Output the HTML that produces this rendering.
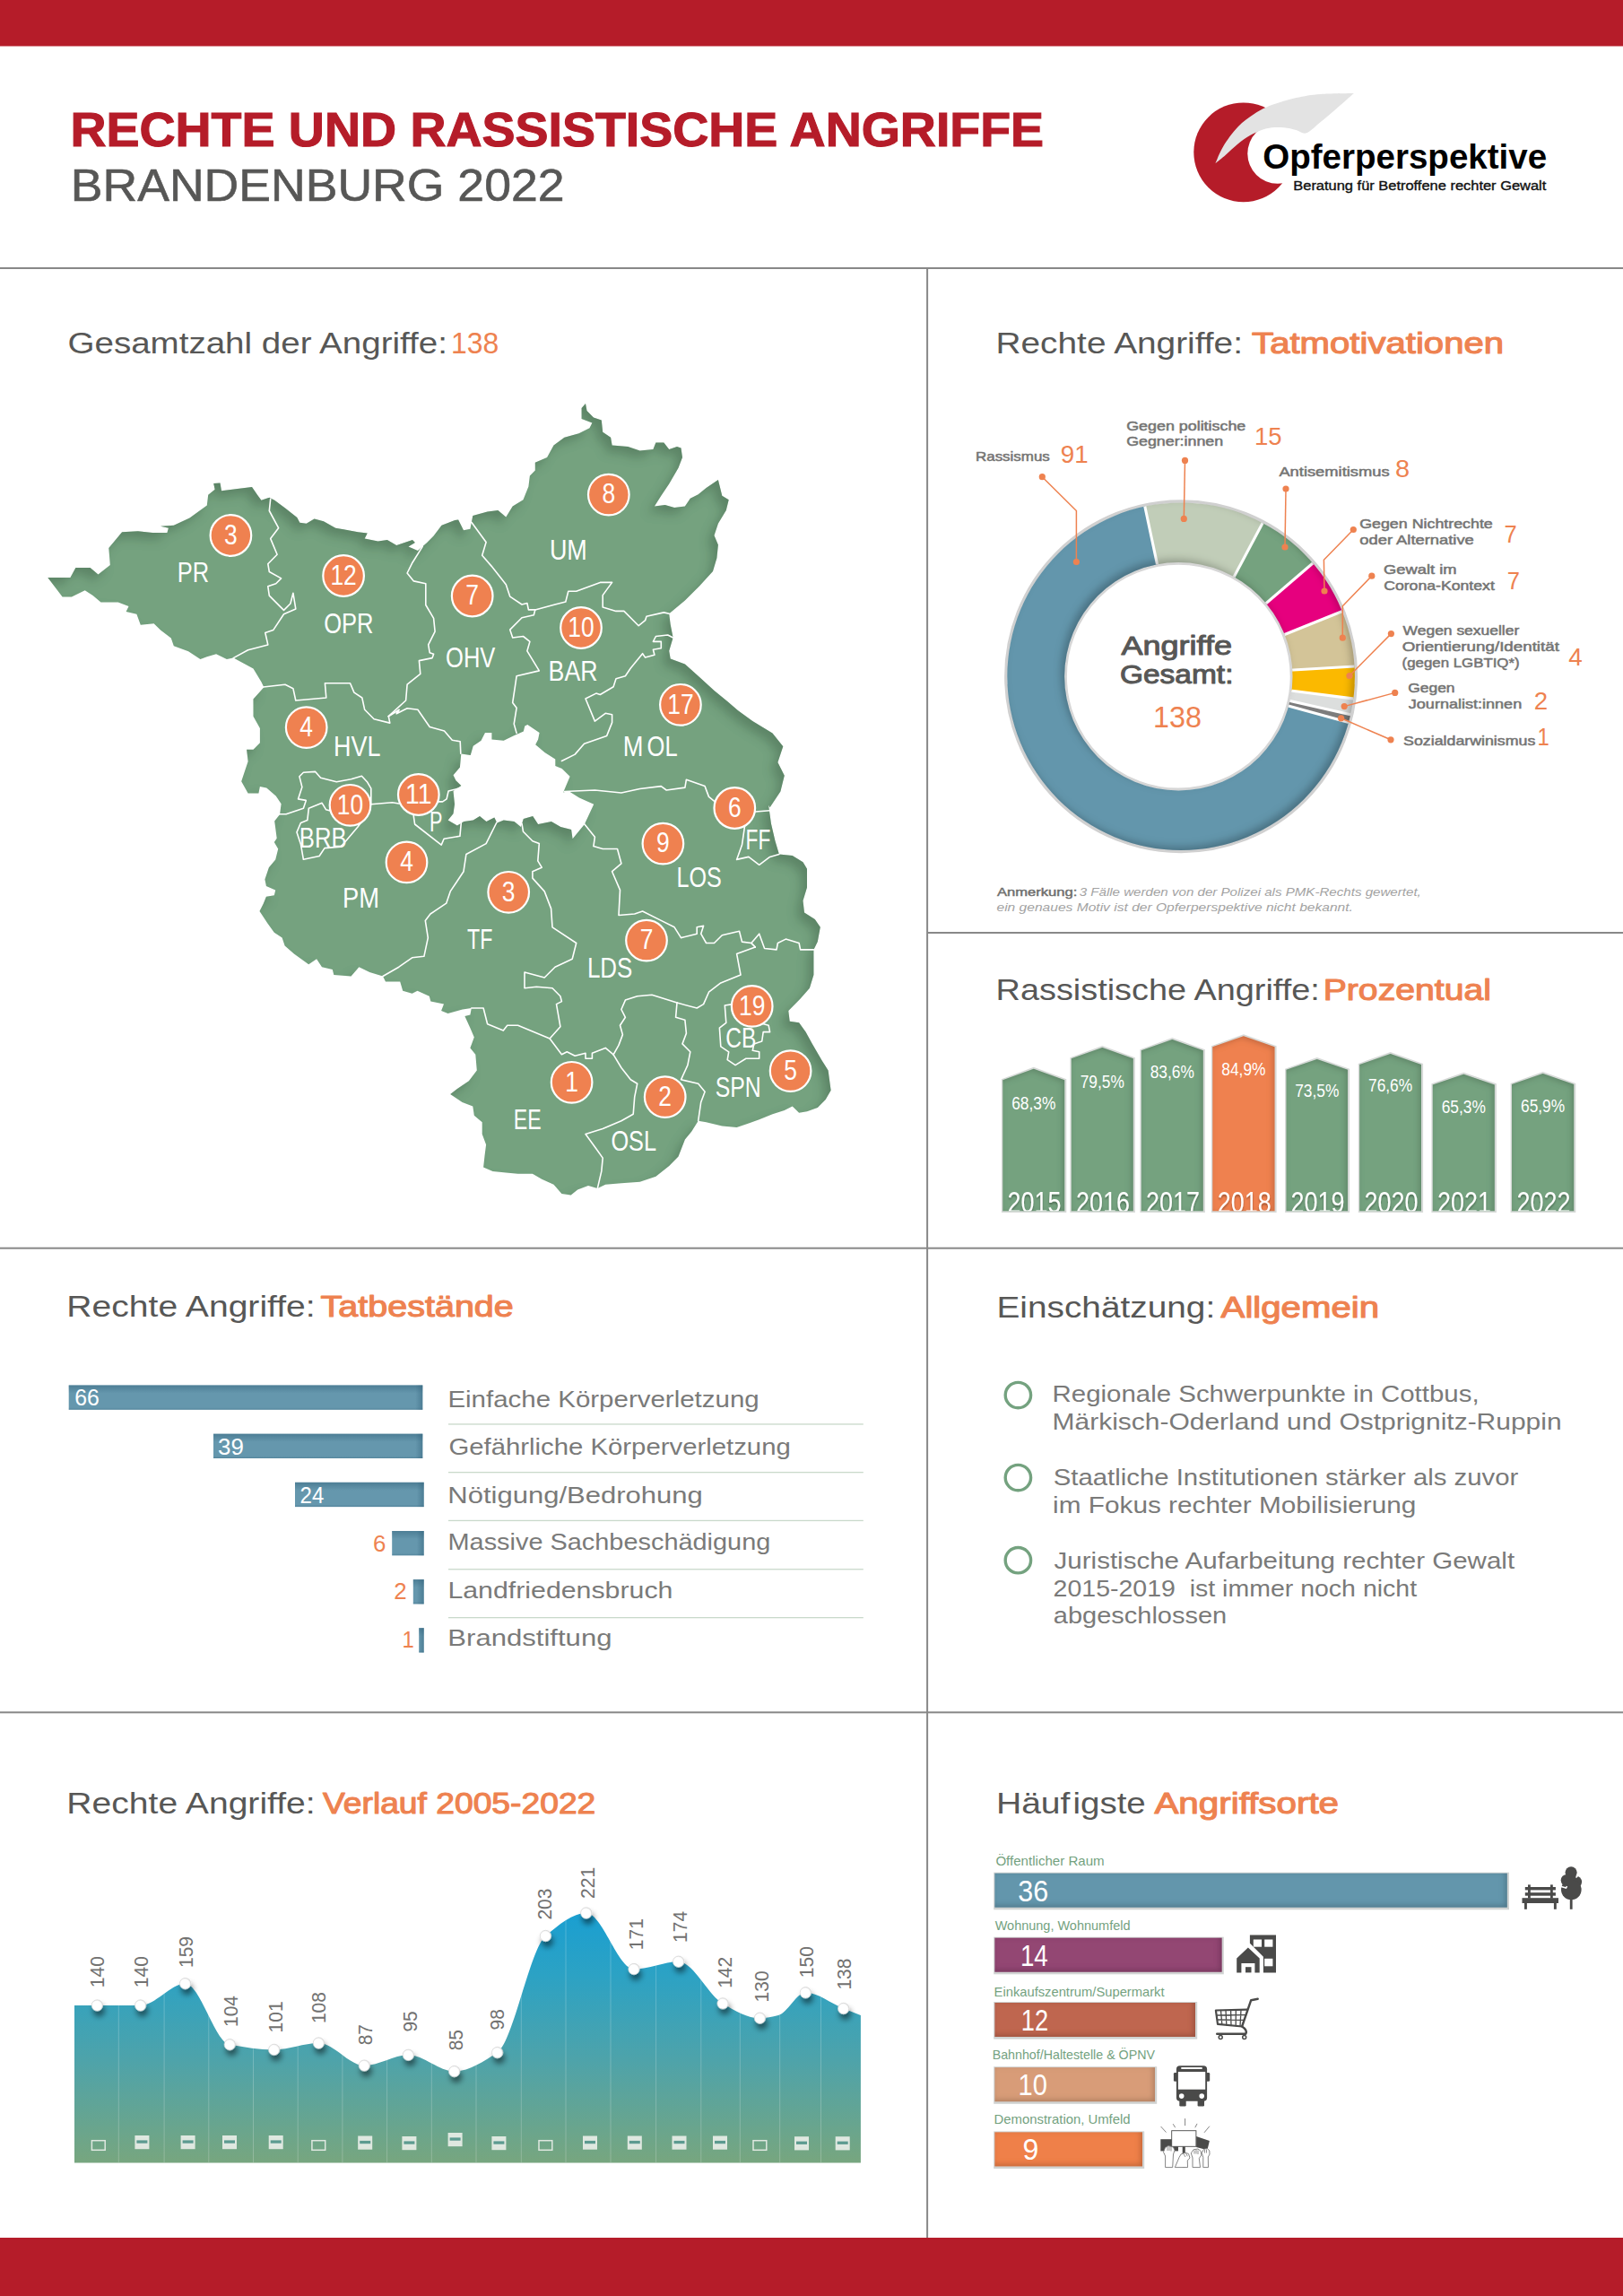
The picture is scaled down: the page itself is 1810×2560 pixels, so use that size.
<!DOCTYPE html>
<html lang="de"><head><meta charset="utf-8"><title>Rechte und rassistische Angriffe Brandenburg 2022</title>
<style>
html,body{margin:0;padding:0;background:#fff;}
body{width:1810px;height:2560px;overflow:hidden;}
svg{display:block;font-family:"Liberation Sans",sans-serif;}
</style>
</head><body>
<svg width="1810" height="2560" viewBox="0 0 1810 2560">
<defs>
<filter id="mapin" x="-5%" y="-5%" width="110%" height="110%">
<feComponentTransfer in="SourceAlpha" result="inv"><feFuncA type="table" tableValues="1 0"/></feComponentTransfer>
<feGaussianBlur in="inv" stdDeviation="5.5" result="bl"/>
<feOffset in="bl" dx="-7" dy="8" result="ob"/>
<feFlood flood-color="#17402a" flood-opacity="0.4"/>
<feComposite in2="ob" operator="in"/>
<feComposite in2="SourceAlpha" operator="in" result="sh"/>
<feMerge><feMergeNode in="SourceGraphic"/><feMergeNode in="sh"/></feMerge>
</filter>
<filter id="barin" x="-10%" y="-10%" width="120%" height="120%">
<feComponentTransfer in="SourceAlpha" result="inv"><feFuncA type="table" tableValues="1 0"/></feComponentTransfer>
<feGaussianBlur in="inv" stdDeviation="3" result="bl"/>
<feOffset in="bl" dx="-2" dy="2" result="ob"/>
<feFlood flood-color="#000" flood-opacity="0.35"/>
<feComposite in2="ob" operator="in"/>
<feComposite in2="SourceAlpha" operator="in" result="sh"/>
<feMerge><feMergeNode in="SourceGraphic"/><feMergeNode in="sh"/></feMerge>
</filter>
<filter id="ringin" x="-5%" y="-5%" width="110%" height="110%">
<feComponentTransfer in="SourceAlpha" result="inv"><feFuncA type="table" tableValues="1 0"/></feComponentTransfer>
<feGaussianBlur in="inv" stdDeviation="4.5" result="bl"/>
<feOffset in="bl" dx="-4" dy="-4" result="ob"/>
<feFlood flood-color="#000" flood-opacity="0.45"/>
<feComposite in2="ob" operator="in"/>
<feComposite in2="SourceAlpha" operator="in" result="sh"/>
<feMerge><feMergeNode in="SourceGraphic"/><feMergeNode in="sh"/></feMerge>
</filter>
<filter id="dotsh" x="-100%" y="-100%" width="300%" height="350%">
<feGaussianBlur in="SourceAlpha" stdDeviation="3"/><feOffset dx="1.5" dy="5.5"/>
<feComponentTransfer><feFuncA type="linear" slope="0.5"/></feComponentTransfer>
<feMerge><feMergeNode/><feMergeNode in="SourceGraphic"/></feMerge>
</filter>
<filter id="txtsh" x="-10%" y="-10%" width="120%" height="130%"><feGaussianBlur in="SourceAlpha" stdDeviation="1.2"/><feOffset dx="0" dy="1.5"/><feComponentTransfer><feFuncA type="linear" slope="0.35"/></feComponentTransfer><feMerge><feMergeNode/><feMergeNode in="SourceGraphic"/></feMerge></filter>
<linearGradient id="tbtop" x1="0" x2="0" y1="0" y2="1"><stop offset="0" stop-color="#2f5f78" stop-opacity="0.45"/><stop offset="1" stop-color="#2f5f78" stop-opacity="0"/></linearGradient>
<linearGradient id="tbend" x1="0" x2="1" y1="0" y2="0"><stop offset="0" stop-color="#2f5f78" stop-opacity="0"/><stop offset="1" stop-color="#2f5f78" stop-opacity="0.45"/></linearGradient>
<linearGradient id="tbbot" x1="0" x2="0" y1="0" y2="1"><stop offset="0" stop-color="#2f5f78" stop-opacity="0"/><stop offset="1" stop-color="#2f5f78" stop-opacity="0.3"/></linearGradient>
<filter id="hbarin" x="-5%" y="-20%" width="110%" height="140%">
<feComponentTransfer in="SourceAlpha" result="inv"><feFuncA type="table" tableValues="1 0"/></feComponentTransfer>
<feGaussianBlur in="inv" stdDeviation="3" result="bl"/>
<feOffset in="bl" dx="-2" dy="-2" result="ob"/>
<feFlood flood-color="#000" flood-opacity="0.4"/>
<feComposite in2="ob" operator="in"/>
<feComposite in2="SourceAlpha" operator="in" result="sh"/>
<feMerge><feMergeNode in="SourceGraphic"/><feMergeNode in="sh"/></feMerge>
</filter>
<radialGradient id="dotg" cx="0.45" cy="0.55" r="0.6"><stop offset="0" stop-color="#fff"/><stop offset="0.7" stop-color="#fff"/><stop offset="1" stop-color="#dcdcdc"/></radialGradient>
<linearGradient id="area" x1="0" y1="2133" x2="0" y2="2411" gradientUnits="userSpaceOnUse">
<stop offset="0" stop-color="#1a9fd1"/><stop offset="0.25" stop-color="#2ca2c4"/><stop offset="0.6" stop-color="#4fa3a9"/><stop offset="1" stop-color="#77a67f"/>
</linearGradient>
</defs>
<rect width="1810" height="2560" fill="#fff"/>

<rect x="0" y="0" width="1810" height="51.5" fill="#b51c29"/>
<rect x="0" y="2495" width="1810" height="65" fill="#b51c29"/>
<text x="78.4" y="162.8" font-size="53.7" fill="#b51c29" font-weight="700" textLength="1085.7" lengthAdjust="spacingAndGlyphs" stroke="#b51c29" stroke-width="1.1">RECHTE UND RASSISTISCHE ANGRIFFE</text>
<text x="78.8" y="223.8" font-size="50.5" fill="#575756" textLength="550.7" lengthAdjust="spacingAndGlyphs" stroke="#575756" stroke-width="0.6">BRANDENBURG 2022</text>
<g fill="#888"><rect x="0" y="298" width="1810" height="2"/><rect x="1034" y="1039" width="776" height="2"/><rect x="0" y="1390.7" width="1810" height="2"/><rect x="0" y="1908.3" width="1810" height="2"/><rect x="1033.1" y="299" width="2" height="2196"/></g>
<circle cx="1386.7" cy="169.8" r="55.4" fill="#b51c29"/>
<circle cx="1424.8" cy="171.3" r="33.5" fill="#fff"/>
<path d="M1355.4,182.2 C1356.9,179.0 1360.0,170.0 1364.2,163.2 C1368.4,156.4 1374.6,147.6 1380.5,141.5 C1386.4,135.4 1393.2,130.7 1399.5,126.6 C1405.8,122.5 1410.7,120.0 1418.4,117.1 C1426.1,114.2 1436.5,111.0 1445.5,109.0 C1454.5,107.0 1462.0,105.7 1472.7,104.9 C1483.4,104.1 1503.7,104.2 1509.9,104.0 C1506.6,106.9 1496.5,115.9 1490.3,121.2 C1484.1,126.5 1478.2,131.6 1472.7,136.1 C1467.2,140.6 1461.6,146.8 1457.1,148.3 C1452.6,149.8 1449.7,145.9 1445.5,144.9 C1441.3,143.9 1436.5,142.6 1432.0,142.2 C1427.5,141.8 1422.6,141.8 1418.4,142.2 C1414.2,142.6 1411.0,143.4 1406.9,144.9 C1402.8,146.4 1398.4,148.4 1394.0,151.0 C1389.6,153.6 1385.0,156.9 1380.5,160.5 C1376.0,164.1 1371.1,169.1 1366.9,172.7 C1362.7,176.3 1357.3,180.6 1355.4,182.2Z" fill="#e3e3e3"/>
<text x="1408.2" y="187.5" font-size="38.6" fill="#000" font-weight="700" textLength="317.0" lengthAdjust="spacingAndGlyphs">Opferperspektive</text>
<text x="1442.3" y="212" font-size="14" fill="#111" textLength="282.0" lengthAdjust="spacingAndGlyphs" stroke="#111" stroke-width="0.35">Beratung für Betroffene rechter Gewalt</text>
<text x="75.5" y="394.2" font-size="33" fill="#575756" textLength="423.4" lengthAdjust="spacingAndGlyphs">Gesamtzahl der Angriffe:</text>
<text x="503.0" y="394.2" font-size="33.5" fill="#ee8250" textLength="53.3" lengthAdjust="spacingAndGlyphs">138</text>
<text x="1110.5" y="393.6" font-size="32.5" fill="#575756" textLength="275.5" lengthAdjust="spacingAndGlyphs">Rechte Angriffe:</text>
<text x="1396.1" y="393.6" font-size="32.5" fill="#ee8250" textLength="281.0" lengthAdjust="spacingAndGlyphs" stroke="#ee8250" stroke-width="1.10" stroke-linejoin="round">Tatmotivationen</text>
<text x="1110.6" y="1114.5" font-size="32.5" fill="#575756" textLength="361.2" lengthAdjust="spacingAndGlyphs">Rassistische Angriffe:</text>
<text x="1475.7" y="1114.5" font-size="32.5" fill="#ee8250" textLength="187.3" lengthAdjust="spacingAndGlyphs" stroke="#ee8250" stroke-width="1.10" stroke-linejoin="round">Prozentual</text>
<text x="74.3" y="1468" font-size="32.5" fill="#575756" textLength="277.4" lengthAdjust="spacingAndGlyphs">Rechte Angriffe:</text>
<text x="357.6" y="1468" font-size="32.5" fill="#ee8250" textLength="215.2" lengthAdjust="spacingAndGlyphs" stroke="#ee8250" stroke-width="1.10" stroke-linejoin="round">Tatbestände</text>
<text x="1111.5" y="1468.8" font-size="32.5" fill="#575756" textLength="243.7" lengthAdjust="spacingAndGlyphs">Einschätzung:</text>
<text x="1361.6" y="1468.8" font-size="32.5" fill="#ee8250" textLength="176.4" lengthAdjust="spacingAndGlyphs" stroke="#ee8250" stroke-width="1.10" stroke-linejoin="round">Allgemein</text>
<text x="74.3" y="2022" font-size="32.5" fill="#575756" textLength="277.4" lengthAdjust="spacingAndGlyphs">Rechte Angriffe:</text>
<text x="360.0" y="2022" font-size="32.5" fill="#ee8250" textLength="304.3" lengthAdjust="spacingAndGlyphs" stroke="#ee8250" stroke-width="1.10" stroke-linejoin="round">Verlauf 2005-2022</text>
<text x="1110.9" y="2021.6" font-size="32.5" fill="#575756" textLength="82.6" lengthAdjust="spacingAndGlyphs">Häuf</text>
<text x="1196.4" y="2021.6" font-size="32.5" fill="#575756" textLength="81.4" lengthAdjust="spacingAndGlyphs">igste</text>
<text x="1287.4" y="2021.6" font-size="32.5" fill="#ee8250" textLength="205.7" lengthAdjust="spacingAndGlyphs" stroke="#ee8250" stroke-width="1.10" stroke-linejoin="round">Angriffsorte</text>
<g filter="url(#mapin)"><path d="M53.3,644.0 L78.4,644.0 L84.4,633.1 L100.6,633.1 L109.5,640.5 L122.8,630.1 L121.3,610.9 L136.1,593.2 L153.9,592.3 L170.1,594.0 L186.4,594.0 L187.9,588.7 L179.0,586.7 L193.8,585.8 L211.5,577.5 L230.8,563.6 L232.2,551.8 L239.6,545.8 L238.2,539.0 L245.5,538.4 L247.0,547.3 L264.8,545.0 L281.0,542.9 L287.0,551.8 L291.4,557.7 L300.3,554.7 L306.2,557.7 L318.0,566.5 L331.3,576.9 L334.3,582.8 L341.7,583.7 L350.5,578.4 L360.9,581.3 L374.2,588.7 L383.1,590.2 L399.3,593.2 L409.7,594.6 L406.7,600.6 L421.5,603.5 L431.9,602.0 L442.2,607.9 L460.0,602.0 L462.9,605.0 L455.5,609.4 L465.9,613.9 L476.2,605.0 L483.6,597.6 L492.5,585.8 L507.3,579.9 L511.1,579.4 L517.0,591.2 L524.4,589.7 L527.3,574.9 L543.6,570.5 L555.4,569.0 L564.3,576.4 L571.7,564.6 L583.5,557.2 L589.4,542.4 L590.9,530.6 L596.8,524.6 L596.8,515.8 L610.1,509.9 L617.5,496.5 L629.4,487.7 L645.6,483.2 L657.5,477.3 L660.4,471.4 L648.6,467.0 L648.6,455.1 L653.0,450.1 L654.5,458.1 L661.9,465.5 L670.8,468.4 L672.2,481.8 L681.1,487.7 L682.6,496.5 L700.3,498.0 L713.6,502.5 L728.4,501.0 L731.4,493.6 L740.3,493.6 L746.2,501.0 L755.0,498.0 L759.5,499.5 L761.0,509.9 L756.5,521.7 L746.2,539.4 L737.3,552.7 L729.9,564.6 L741.7,563.1 L752.1,566.0 L763.9,564.6 L769.8,555.7 L778.7,551.3 L787.6,543.9 L800.9,535.0 L805.3,552.7 L812.7,557.2 L809.8,569.0 L800.9,583.8 L796.5,597.1 L800.9,607.5 L799.4,622.2 L795.0,637.0 L780.2,653.3 L763.9,669.6 L746.2,684.3 L747.7,696.2 L750.6,711.0 L746.2,725.8 L747.7,734.6 L763.9,740.5 L778.7,753.8 L796.5,770.1 L811.2,781.9 L823.1,792.3 L839.3,804.1 L861.5,817.4 L873.3,832.2 L867.4,850.0 L874.8,864.8 L870.4,882.5 L858.6,900.2 L857.1,897.7 L860.0,918.4 L864.5,937.7 L868.9,952.5 L883.7,953.9 L895.5,961.3 L900.0,968.7 L900.0,989.4 L895.5,1004.2 L897.0,1017.5 L908.8,1024.9 L914.8,1033.8 L911.8,1050.1 L907.4,1058.9 L907.4,1087.0 L902.9,1101.8 L892.6,1113.6 L879.3,1127.0 L880.7,1138.8 L891.1,1140.3 L898.5,1150.6 L905.9,1163.9 L916.2,1181.7 L923.6,1193.5 L926.6,1215.7 L920.7,1226.0 L911.8,1234.9 L900.0,1239.3 L891.1,1240.8 L883.7,1233.4 L874.8,1237.9 L861.5,1242.3 L846.7,1248.2 L834.9,1252.6 L821.6,1257.1 L805.3,1255.6 L787.6,1251.2 L778.7,1249.7 L771.3,1261.5 L763.9,1270.4 L756.5,1289.6 L746.2,1300.0 L731.4,1311.8 L713.6,1317.7 L692.9,1319.2 L675.2,1320.7 L666.3,1325.1 L656.0,1322.1 L644.1,1326.6 L636.7,1332.5 L626.4,1331.0 L617.5,1320.7 L604.2,1314.8 L593.9,1308.8 L577.6,1308.8 L564.3,1307.4 L549.5,1305.9 L539.1,1301.4 L540.6,1288.1 L542.1,1276.3 L537.7,1264.5 L537.7,1251.2 L528.8,1243.8 L527.3,1233.4 L515.5,1229.0 L502.2,1220.1 L509.6,1214.2 L522.9,1205.3 L531.8,1193.5 L530.3,1175.8 L524.4,1168.4 L528.8,1156.5 L524.4,1146.2 L518.4,1132.9 L524.4,1131.4 L525.8,1124.0 L515.8,1125.5 L499.5,1129.9 L492.1,1127.0 L495.0,1119.6 L480.3,1116.6 L478.8,1110.7 L465.5,1104.8 L459.6,1107.7 L449.2,1104.8 L446.2,1094.4 L430.0,1094.4 L427.0,1088.5 L412.2,1084.1 L400.4,1078.2 L391.5,1088.5 L372.3,1087.0 L370.8,1081.1 L359.0,1078.2 L353.1,1069.3 L344.2,1075.2 L327.9,1063.4 L317.6,1054.5 L314.6,1045.6 L305.8,1039.7 L298.4,1029.4 L289.5,1016.0 L293.9,1007.2 L296.9,999.8 L305.8,998.3 L307.2,992.4 L296.9,987.9 L295.4,980.6 L299.9,967.2 L307.2,958.4 L310.2,946.5 L305.8,939.1 L308.7,934.7 L305.8,912.5 L306.2,915.5 L312.1,908.1 L313.6,896.3 L307.7,887.4 L297.3,878.6 L289.9,877.1 L288.4,884.5 L276.6,884.5 L269.2,871.2 L276.6,849.0 L275.1,835.7 L282.5,835.7 L289.9,828.3 L289.9,812.0 L282.5,798.7 L282.5,779.5 L294.3,766.2 L291.4,760.3 L282.5,745.5 L260.3,733.6 L252.9,735.1 L241.1,729.2 L230.8,732.2 L223.4,735.1 L210.1,726.2 L193.8,720.3 L190.8,711.5 L179.0,702.6 L171.6,695.2 L156.8,696.7 L152.4,684.8 L140.6,681.9 L143.5,676.0 L131.7,671.5 L112.5,671.5 L103.6,664.1 L94.7,658.2 L79.9,665.6 L69.6,665.6Z M588.3,808.1 L601.6,817.0 L600.1,824.4 L597.2,830.3 L607.5,839.1 L619.3,846.5 L619.3,853.9 L626.7,856.9 L635.6,865.8 L628.2,883.5 L634.1,882.0 L646.0,889.4 L662.2,896.8 L651.9,919.0 L638.6,935.3 L637.1,924.9 L625.3,922.0 L614.9,916.0 L600.1,919.0 L594.2,910.1 L583.8,913.1 L580.9,922.0 L573.5,916.0 L561.7,914.6 L554.3,917.5 L551.3,911.6 L542.4,916.0 L535.0,910.1 L527.7,914.6 L517.3,916.0 L509.9,920.5 L499.6,914.6 L505.5,907.2 L507.0,896.8 L505.5,882.0 L514.3,876.1 L508.4,870.2 L505.5,864.3 L512.9,855.4 L514.3,840.6 L524.7,842.1 L527.7,831.8 L536.5,825.8 L541.0,817.0 L548.4,817.0 L548.4,824.4 L561.7,825.8 L573.5,819.9 L583.8,815.5 L585.3,809.6Z" fill="#74a27f" fill-rule="evenodd"/></g>
<g fill="none" stroke="#fff" stroke-width="1.6" stroke-linejoin="round" stroke-linecap="round">
<path d="M301.7,556.2 L300.3,569.5 L310.6,588.7 L301.7,600.6 L309.1,618.3 L298.8,628.7 L300.3,637.5 L313.6,644.9 L307.7,650.8 L298.8,653.8 L300.3,664.1 L316.5,680.4 L323.9,673.0 L326.9,661.2 L329.8,678.9 L316.5,684.8 L304.7,702.6 L295.8,705.5 L298.8,718.9 L276.6,724.8 L260.3,733.6 L261.8,742.5"/>
<path d="M291.4,766.2 L318.0,763.2 L326.9,767.7 L329.8,781.0 L363.8,778.0 L362.4,761.7 L390.5,761.7 L394.9,772.1 L403.8,778.0 L406.7,791.3 L417.1,801.7 L434.8,806.1 L433.3,798.7"/>
<path d="M433.3,798.7 L445.2,791.3 L442.2,795.8 L454.1,789.8 L465.9,791.3 L479.2,810.5 L495.5,815.0 L504.3,825.3 L513.2,826.8 L513.8,840.1"/>
<path d="M471.2,609.4 L460.0,627.2 L454.1,639.0 L461.4,647.9 L474.8,650.8 L474.8,674.5 L483.6,689.3 L485.1,704.1 L477.7,718.9 L479.2,727.7 L483.6,729.2 L482.1,733.6 L467.4,736.6 L468.8,751.4 L454.1,763.2 L452.6,781.0 L433.3,798.7"/>
<path d="M525.8,582.3 L542.1,604.5 L537.7,619.3 L548.0,631.1 L564.3,651.8 L568.7,665.1 L582.0,674.0 L587.9,672.5 L589.4,679.9 L596.8,679.9"/>
<path d="M596.8,679.9 L619.0,674.0 L630.8,671.0 L633.8,659.2 L642.7,659.2 L669.3,649.4 L682.6,649.4 L672.2,663.6 L672.2,677.0 L687.0,681.4 L695.9,681.4 L712.2,697.7 L719.6,691.7 L721.0,687.3 L740.3,682.9 L746.2,684.3"/>
<path d="M596.8,679.9 L595.3,685.8 L582.0,688.8 L568.7,702.1 L571.7,711.0 L583.5,709.5 L590.9,715.4 L587.9,725.8 L601.3,747.9 L576.1,753.8 L574.6,764.2 L571.7,783.4 L576.1,789.3 L573.2,807.1 L576.1,817.4"/>
<path d="M750.6,711.0 L744.7,708.0 L731.4,709.5 L728.4,715.4 L737.3,715.4 L737.3,722.8 L728.4,724.3 L729.9,730.2 L719.6,733.1 L716.6,728.7 L703.3,745.0 L697.4,753.8 L687.0,756.8 L684.1,765.7 L669.3,774.5 L664.8,773.1 L653.0,779.0 L663.4,804.1 L675.2,795.3 L682.6,796.7 L682.6,805.6 L676.7,820.4 L651.5,829.3 L641.2,841.1 L626.4,848.5"/>
<path d="M629.4,882.5 L663.4,881.0 L692.9,884.0 L713.6,879.5 L737.3,876.6 L743.2,881.0 L763.9,878.1 L765.4,869.2 L786.1,876.6 L790.5,888.4 L797.9,894.3 L805.3,903.2 L839.3,905.3 L858.6,903.8"/>
<path d="M839.3,905.1 L830.5,921.4 L827.5,942.1 L821.6,958.4 L834.9,955.4 L846.7,964.3 L858.6,955.4 L868.9,952.5"/>
<path d="M489.2,893.9 L493.6,893.9 L498.1,890.9 L500.1,882.0 L511.4,879.1"/>
<path d="M413.8,896.8 L437.5,894.8 L449.3,896.8 L461.1,908.7 L462.6,919.0 L492.2,942.1 L495.1,935.3 L512.9,932.3 L514.3,917.5"/>
<path d="M308.8,907.8 L319.1,907.8 L338.4,901.3 L341.3,892.4 L332.5,890.9 L336.9,877.6 L333.9,865.8 L338.4,861.3 L351.7,860.4 L357.6,867.2 L375.3,871.7 L391.6,868.7 L403.4,865.2 L409.4,871.7 L413.8,879.1 L413.8,896.8 L407.9,910.1 L399.0,922.0 L382.7,941.2 L379.8,944.1 L362.0,945.6 L356.1,954.5 L338.4,958.3 L335.4,941.2 L331.0,927.9 L335.4,917.5 L342.8,914.6 L344.3,901.3 L359.1,895.3 L363.5,902.7 L369.4,904.2"/>
<path d="M553.9,917.0 L542.1,940.6 L519.9,952.5 L517.0,971.7 L502.2,993.9 L497.7,1007.2 L480.0,1019.0 L474.3,1026.4 L477.3,1045.6 L472.9,1066.3 L459.6,1067.8 L444.8,1078.2 L427.0,1088.5"/>
<path d="M582.0,918.4 L583.5,927.3 L593.9,937.7 L601.3,940.6 L599.8,959.9 L604.2,967.2 L593.9,971.7 L593.9,979.1 L607.2,993.9 L614.6,1013.1 L616.0,1033.8 L642.7,1051.5 L638.2,1069.3 L619.0,1078.2 L607.2,1090.0 L585.0,1084.1 L585.0,1101.8 L598.3,1100.3 L616.0,1101.8 L624.9,1110.7 L626.4,1116.6 L620.5,1119.6 L624.9,1144.7 L613.1,1158.0"/>
<path d="M525.8,1124.0 L539.1,1124.0 L543.6,1141.7 L561.3,1149.1 L565.8,1143.2 L577.6,1143.2 L613.1,1158.0 L626.4,1175.8 L632.3,1172.8 L641.2,1177.2 L653.0,1174.3 L653.0,1180.2 L660.4,1180.2 L660.4,1174.3 L675.2,1168.4 L684.1,1175.8"/>
<path d="M651.5,918.4 L663.4,933.2 L661.9,943.6 L672.2,946.5 L688.5,946.5 L692.9,962.8 L682.6,971.7 L691.5,992.4 L690.0,1020.5 L707.7,1019.0 L716.6,1016.0 L737.3,1026.4 L752.1,1033.8 L759.5,1045.6 L777.2,1041.2 L777.2,1033.8 L784.6,1032.3 L781.7,1041.2 L787.6,1051.5 L796.5,1051.5 L805.3,1042.7 L824.5,1038.2 L827.5,1050.1 L837.9,1051.5 L842.3,1056.0"/>
<path d="M842.3,1056.0 L821.6,1063.4 L826.0,1087.0 L803.8,1095.9 L790.5,1106.2 L784.6,1119.6 L777.2,1124.0 L755.0,1118.1"/>
<path d="M755.0,1118.1 L727.0,1109.2 L710.7,1110.7 L697.4,1115.1 L692.9,1125.5 L697.4,1134.3 L691.5,1143.2 L694.4,1153.6 L690.0,1165.4 L684.1,1175.8"/>
<path d="M755.0,1118.1 L753.6,1134.3 L763.9,1137.3 L765.4,1152.1 L761.0,1163.9 L769.8,1172.8 L766.9,1187.6 L759.5,1203.8 L778.7,1208.3 L786.1,1217.2 L781.7,1229.0 L778.7,1249.7"/>
<path d="M684.1,1175.8 L692.9,1190.5 L703.3,1203.8 L710.7,1208.3 L707.7,1223.1 L706.2,1242.3 L692.9,1249.7 L672.2,1258.6 L653.0,1264.5 L664.8,1280.7 L672.2,1291.1 L670.8,1305.9 L666.3,1325.1"/>
<path d="M842.3,1056.0 L837.9,1051.5 L846.7,1041.2 L852.6,1057.5 L866.0,1058.9 L867.4,1051.5 L876.3,1047.1 L891.1,1051.5 L892.6,1058.9 L907.4,1058.9"/>
<path d="M808.3,1121.0 L817.2,1119.6 L820.1,1128.4 L834.9,1137.3 L857.1,1143.2 L858.6,1150.6 L851.2,1150.6 L849.7,1161.0 L840.8,1163.9 L839.3,1171.3 L846.7,1172.8 L846.7,1180.2 L831.9,1180.2 L820.1,1187.6 L811.2,1181.7 L812.7,1172.8 L803.8,1166.9 L802.4,1146.2 L809.8,1140.3 L808.3,1121.0"/>
</g>
<g fill="#fff" font-size="31">
<text x="197.7" y="649.4" textLength="35.4" lengthAdjust="spacingAndGlyphs">PR</text>
<text x="361.2" y="706.1" textLength="55.3" lengthAdjust="spacingAndGlyphs">OPR</text>
<text x="372.1" y="842.5" textLength="52.5" lengthAdjust="spacingAndGlyphs">HVL</text>
<text x="333.8" y="944.5" textLength="52.7" lengthAdjust="spacingAndGlyphs">BRB</text>
<text x="479.0" y="926.8" textLength="14.4" lengthAdjust="spacingAndGlyphs">P</text>
<text x="612.9" y="623.7" textLength="41.9" lengthAdjust="spacingAndGlyphs">UM</text>
<text x="497.1" y="744.4" textLength="55.3" lengthAdjust="spacingAndGlyphs">OHV</text>
<text x="611.6" y="759.2" textLength="55.0" lengthAdjust="spacingAndGlyphs">BAR</text>
<text x="754.5" y="989.4" textLength="50.3" lengthAdjust="spacingAndGlyphs">LOS</text>
<text x="831.6" y="946.5" textLength="27.7" lengthAdjust="spacingAndGlyphs">FF</text>
<text x="521.0" y="1057.5" textLength="28.3" lengthAdjust="spacingAndGlyphs">TF</text>
<text x="654.9" y="1090" textLength="50.4" lengthAdjust="spacingAndGlyphs">LDS</text>
<text x="809.3" y="1168.4" textLength="34.1" lengthAdjust="spacingAndGlyphs">CB</text>
<text x="797.7" y="1223.1" textLength="51.0" lengthAdjust="spacingAndGlyphs">SPN</text>
<text x="572.8" y="1259.4" textLength="30.9" lengthAdjust="spacingAndGlyphs">EE</text>
<text x="681.4" y="1283.1" textLength="50.6" lengthAdjust="spacingAndGlyphs">OSL</text>
<text x="382.0" y="1012.2" textLength="41.0" lengthAdjust="spacingAndGlyphs">PM</text>
<text x="694.7" y="843.2" textLength="22.7" lengthAdjust="spacingAndGlyphs">M</text>
<text x="721.6" y="843.2" textLength="34.0" lengthAdjust="spacingAndGlyphs">OL</text>
</g>
<g>
<circle cx="257.4" cy="597" r="22.8" fill="#ef8150" stroke="#fff" stroke-width="2.2"/>
<text x="257.4" y="606.7" text-anchor="middle" fill="#fff" font-size="31.5" textLength="14.7" lengthAdjust="spacingAndGlyphs">3</text>
<circle cx="383.1" cy="642" r="22.8" fill="#ef8150" stroke="#fff" stroke-width="2.2"/>
<text x="383.1" y="651.7" text-anchor="middle" fill="#fff" font-size="31.5" textLength="29.4" lengthAdjust="spacingAndGlyphs">12</text>
<circle cx="526.7" cy="664.5" r="22.8" fill="#ef8150" stroke="#fff" stroke-width="2.2"/>
<text x="526.7" y="674.2" text-anchor="middle" fill="#fff" font-size="31.5" textLength="14.7" lengthAdjust="spacingAndGlyphs">7</text>
<circle cx="678.8" cy="551.6" r="22.8" fill="#ef8150" stroke="#fff" stroke-width="2.2"/>
<text x="678.8" y="561.3000000000001" text-anchor="middle" fill="#fff" font-size="31.5" textLength="14.7" lengthAdjust="spacingAndGlyphs">8</text>
<circle cx="648" cy="700" r="22.8" fill="#ef8150" stroke="#fff" stroke-width="2.2"/>
<text x="648" y="709.7" text-anchor="middle" fill="#fff" font-size="31.5" textLength="29.4" lengthAdjust="spacingAndGlyphs">10</text>
<circle cx="758.9" cy="785.8" r="22.8" fill="#ef8150" stroke="#fff" stroke-width="2.2"/>
<text x="758.9" y="795.5" text-anchor="middle" fill="#fff" font-size="31.5" textLength="29.4" lengthAdjust="spacingAndGlyphs">17</text>
<circle cx="341.7" cy="811.1" r="22.8" fill="#ef8150" stroke="#fff" stroke-width="2.2"/>
<text x="341.7" y="820.8000000000001" text-anchor="middle" fill="#fff" font-size="31.5" textLength="14.7" lengthAdjust="spacingAndGlyphs">4</text>
<circle cx="390.5" cy="897.8" r="22.8" fill="#ef8150" stroke="#fff" stroke-width="2.2"/>
<text x="390.5" y="907.5" text-anchor="middle" fill="#fff" font-size="31.5" textLength="29.4" lengthAdjust="spacingAndGlyphs">10</text>
<circle cx="466.8" cy="886" r="22.8" fill="#ef8150" stroke="#fff" stroke-width="2.2"/>
<text x="466.8" y="895.7" text-anchor="middle" fill="#fff" font-size="31.5" textLength="29.4" lengthAdjust="spacingAndGlyphs">11</text>
<circle cx="819.3" cy="901" r="22.8" fill="#ef8150" stroke="#fff" stroke-width="2.2"/>
<text x="819.3" y="910.7" text-anchor="middle" fill="#fff" font-size="31.5" textLength="14.7" lengthAdjust="spacingAndGlyphs">6</text>
<circle cx="739.4" cy="940.6" r="22.8" fill="#ef8150" stroke="#fff" stroke-width="2.2"/>
<text x="739.4" y="950.3000000000001" text-anchor="middle" fill="#fff" font-size="31.5" textLength="14.7" lengthAdjust="spacingAndGlyphs">9</text>
<circle cx="453.5" cy="961.4" r="22.8" fill="#ef8150" stroke="#fff" stroke-width="2.2"/>
<text x="453.5" y="971.1" text-anchor="middle" fill="#fff" font-size="31.5" textLength="14.7" lengthAdjust="spacingAndGlyphs">4</text>
<circle cx="567.2" cy="994.8" r="22.8" fill="#ef8150" stroke="#fff" stroke-width="2.2"/>
<text x="567.2" y="1004.5" text-anchor="middle" fill="#fff" font-size="31.5" textLength="14.7" lengthAdjust="spacingAndGlyphs">3</text>
<circle cx="721" cy="1048.6" r="22.8" fill="#ef8150" stroke="#fff" stroke-width="2.2"/>
<text x="721" y="1058.3" text-anchor="middle" fill="#fff" font-size="31.5" textLength="14.7" lengthAdjust="spacingAndGlyphs">7</text>
<circle cx="838.7" cy="1121.9" r="22.8" fill="#ef8150" stroke="#fff" stroke-width="2.2"/>
<text x="838.7" y="1131.6000000000001" text-anchor="middle" fill="#fff" font-size="31.5" textLength="29.4" lengthAdjust="spacingAndGlyphs">19</text>
<circle cx="881.6" cy="1194.1" r="22.8" fill="#ef8150" stroke="#fff" stroke-width="2.2"/>
<text x="881.6" y="1203.8" text-anchor="middle" fill="#fff" font-size="31.5" textLength="14.7" lengthAdjust="spacingAndGlyphs">5</text>
<circle cx="637.6" cy="1206.8" r="22.8" fill="#ef8150" stroke="#fff" stroke-width="2.2"/>
<text x="637.6" y="1216.5" text-anchor="middle" fill="#fff" font-size="31.5" textLength="14.7" lengthAdjust="spacingAndGlyphs">1</text>
<circle cx="741.7" cy="1223.1" r="22.8" fill="#ef8150" stroke="#fff" stroke-width="2.2"/>
<text x="741.7" y="1232.8" text-anchor="middle" fill="#fff" font-size="31.5" textLength="14.7" lengthAdjust="spacingAndGlyphs">2</text>
</g>
<clipPath id="ringclip"><path clip-rule="evenodd" d="M1123.3,754.2 a193.8,193.8 0 1 0 387.6,0 a193.8,193.8 0 1 0 -387.6,0Z M1187.1,754.2 a127.2,127.2 0 1 0 254.4,0 a127.2,127.2 0 1 0 -254.4,0Z"/></clipPath>
<circle cx="1317.1" cy="754.2" r="195.20000000000002" fill="none" stroke="#d0d0d0" stroke-width="3.6"/>
<circle cx="1314.3" cy="754.2" r="126.0" fill="none" stroke="#d6d6d6" stroke-width="3.2"/>
<g filter="url(#ringin)"><g clip-path="url(#ringclip)">
<path d="M1317.1,754.2 L1276.2,561.7 A196.8,196.8 0 0 1 1409.5,580.4Z" fill="#c1cdb8"/>
<path d="M1317.1,754.2 L1409.5,580.4 A196.8,196.8 0 0 1 1466.4,626.0Z" fill="#74a27f"/>
<path d="M1317.1,754.2 L1466.4,626.0 A196.8,196.8 0 0 1 1499.6,680.5Z" fill="#e6007e"/>
<path d="M1317.1,754.2 L1499.6,680.5 A196.8,196.8 0 0 1 1513.6,742.8Z" fill="#d3c498"/>
<path d="M1317.1,754.2 L1513.6,742.8 A196.8,196.8 0 0 1 1512.3,779.3Z" fill="#fbb900"/>
<path d="M1317.1,754.2 L1512.3,779.3 A196.8,196.8 0 0 1 1509.1,797.4Z" fill="#dcdedd"/>
<path d="M1317.1,754.2 L1509.1,797.4 A196.8,196.8 0 0 1 1506.9,806.2Z" fill="#7d7d7d"/>
<path d="M1317.1,754.2 L1506.9,806.2 A196.8,196.8 0 1 1 1276.2,561.7Z" fill="#6496ac"/>
<line x1="1291.9" y1="635.6" x2="1276.6" y2="563.7" stroke="#fff" stroke-width="3.1"/>
<line x1="1374.0" y1="647.2" x2="1408.6" y2="582.2" stroke="#fff" stroke-width="3.1"/>
<line x1="1409.0" y1="675.2" x2="1464.9" y2="627.3" stroke="#fff" stroke-width="3.1"/>
<line x1="1429.5" y1="708.8" x2="1497.7" y2="681.2" stroke="#fff" stroke-width="3.1"/>
<line x1="1438.1" y1="747.2" x2="1511.6" y2="742.9" stroke="#fff" stroke-width="3.1"/>
<line x1="1437.3" y1="769.7" x2="1510.3" y2="779.1" stroke="#fff" stroke-width="3.1"/>
<line x1="1435.4" y1="780.8" x2="1507.2" y2="796.9" stroke="#fff" stroke-width="3.1"/>
<line x1="1434.0" y1="786.2" x2="1505.0" y2="805.7" stroke="#fff" stroke-width="3.1"/>
</g></g>
<text x="1250.5" y="729.8" font-size="30" fill="#575756" textLength="123.5" lengthAdjust="spacingAndGlyphs" stroke="#575756" stroke-width="1.02" stroke-linejoin="round">Angriffe</text>
<text x="1248.9" y="761.8" font-size="30" fill="#575756" textLength="126.6" lengthAdjust="spacingAndGlyphs" stroke="#575756" stroke-width="1.02" stroke-linejoin="round">Gesamt:</text>
<text x="1285.9" y="811.2" font-size="33" fill="#ee8250" textLength="54.0" lengthAdjust="spacingAndGlyphs">138</text>
<path d="M1162.3,531.7 L1200.4,569.5 L1200.4,626.5" fill="none" stroke="#ee8250" stroke-width="1.5"/>
<circle cx="1162.3" cy="531.7" r="3.6" fill="#ee8250"/>
<circle cx="1200.4" cy="626.5" r="3.6" fill="#ee8250"/>
<path d="M1321.5,513.4 L1320.3,578.4" fill="none" stroke="#ee8250" stroke-width="1.5"/>
<circle cx="1321.5" cy="513.4" r="3.6" fill="#ee8250"/>
<circle cx="1320.3" cy="578.4" r="3.6" fill="#ee8250"/>
<path d="M1434,545 L1433,610" fill="none" stroke="#ee8250" stroke-width="1.5"/>
<circle cx="1434" cy="545" r="3.6" fill="#ee8250"/>
<circle cx="1433" cy="610" r="3.6" fill="#ee8250"/>
<path d="M1509.3,590.5 L1476.4,624.2 L1477,659" fill="none" stroke="#ee8250" stroke-width="1.5"/>
<circle cx="1509.3" cy="590.5" r="3.6" fill="#ee8250"/>
<circle cx="1477" cy="659" r="3.6" fill="#ee8250"/>
<path d="M1529.8,642.2 L1497.3,675.8 L1497.3,711.2" fill="none" stroke="#ee8250" stroke-width="1.5"/>
<circle cx="1529.8" cy="642.2" r="3.6" fill="#ee8250"/>
<circle cx="1497.3" cy="711.2" r="3.6" fill="#ee8250"/>
<path d="M1551.4,706.6 L1505,753.5" fill="none" stroke="#ee8250" stroke-width="1.5"/>
<circle cx="1551.4" cy="706.6" r="3.6" fill="#ee8250"/>
<circle cx="1505" cy="753.5" r="3.6" fill="#ee8250"/>
<path d="M1555.7,772.4 L1499.2,787.6" fill="none" stroke="#ee8250" stroke-width="1.5"/>
<circle cx="1555.7" cy="772.4" r="3.6" fill="#ee8250"/>
<circle cx="1499.2" cy="787.6" r="3.6" fill="#ee8250"/>
<path d="M1551,824.8 L1495.6,800.8" fill="none" stroke="#ee8250" stroke-width="1.5"/>
<circle cx="1551" cy="824.8" r="3.6" fill="#ee8250"/>
<circle cx="1495.6" cy="800.8" r="3.6" fill="#ee8250"/>
<text x="1088.0" y="514" font-size="15" fill="#747473" textLength="82.8" lengthAdjust="spacingAndGlyphs" stroke="#747473" stroke-width="0.51" stroke-linejoin="round">Rassismus</text>
<text x="1182.7" y="516.4" font-size="28" fill="#ee8250" textLength="30.9" lengthAdjust="spacingAndGlyphs">91</text>
<text x="1256.2" y="480" font-size="15" fill="#747473" textLength="133.1" lengthAdjust="spacingAndGlyphs" stroke="#747473" stroke-width="0.51" stroke-linejoin="round">Gegen politische</text>
<text x="1256.2" y="497" font-size="15" fill="#747473" textLength="108.0" lengthAdjust="spacingAndGlyphs" stroke="#747473" stroke-width="0.51" stroke-linejoin="round">Gegner:innen</text>
<text x="1398.9" y="495.9" font-size="28" fill="#ee8250" textLength="30.6" lengthAdjust="spacingAndGlyphs">15</text>
<text x="1426.4" y="531" font-size="15" fill="#747473" textLength="123.2" lengthAdjust="spacingAndGlyphs" stroke="#747473" stroke-width="0.51" stroke-linejoin="round">Antisemitismus</text>
<text x="1556.1" y="531.7" font-size="28" fill="#ee8250" textLength="16.1" lengthAdjust="spacingAndGlyphs">8</text>
<text x="1516.2" y="588.6" font-size="15" fill="#747473" textLength="148.6" lengthAdjust="spacingAndGlyphs" stroke="#747473" stroke-width="0.51" stroke-linejoin="round">Gegen Nichtrechte</text>
<text x="1516.3" y="606.6" font-size="15" fill="#747473" textLength="127.5" lengthAdjust="spacingAndGlyphs" stroke="#747473" stroke-width="0.51" stroke-linejoin="round">oder Alternative</text>
<text x="1677.5" y="605" font-size="28" fill="#ee8250" textLength="14.2" lengthAdjust="spacingAndGlyphs">7</text>
<text x="1543.1" y="639.8" font-size="15" fill="#747473" textLength="81.4" lengthAdjust="spacingAndGlyphs" stroke="#747473" stroke-width="0.51" stroke-linejoin="round">Gewalt im</text>
<text x="1543.2" y="657.8" font-size="15" fill="#747473" textLength="123.6" lengthAdjust="spacingAndGlyphs" stroke="#747473" stroke-width="0.51" stroke-linejoin="round">Corona-Kontext</text>
<text x="1680.8" y="657" font-size="28" fill="#ee8250" textLength="14.2" lengthAdjust="spacingAndGlyphs">7</text>
<text x="1564.6" y="707.6" font-size="15" fill="#747473" textLength="129.6" lengthAdjust="spacingAndGlyphs" stroke="#747473" stroke-width="0.51" stroke-linejoin="round">Wegen sexueller</text>
<text x="1563.7" y="725.6" font-size="15" fill="#747473" textLength="175.2" lengthAdjust="spacingAndGlyphs" stroke="#747473" stroke-width="0.51" stroke-linejoin="round">Orientierung/Identität</text>
<text x="1563.6" y="743.6" font-size="15" fill="#747473" textLength="131.0" lengthAdjust="spacingAndGlyphs" stroke="#747473" stroke-width="0.51" stroke-linejoin="round">(gegen LGBTIQ*)</text>
<text x="1749.2" y="742" font-size="28" fill="#ee8250" textLength="15.5" lengthAdjust="spacingAndGlyphs">4</text>
<text x="1570.2" y="772" font-size="15" fill="#747473" textLength="52.4" lengthAdjust="spacingAndGlyphs" stroke="#747473" stroke-width="0.51" stroke-linejoin="round">Gegen</text>
<text x="1570.8" y="790" font-size="15" fill="#747473" textLength="126.4" lengthAdjust="spacingAndGlyphs" stroke="#747473" stroke-width="0.51" stroke-linejoin="round">Journalist:innen</text>
<text x="1710.7" y="791" font-size="28" fill="#ee8250" textLength="15.4" lengthAdjust="spacingAndGlyphs">2</text>
<text x="1565.1" y="831.3" font-size="15" fill="#747473" textLength="147.2" lengthAdjust="spacingAndGlyphs" stroke="#747473" stroke-width="0.51" stroke-linejoin="round">Sozialdarwinismus</text>
<text x="1714.5" y="831.3" font-size="28" fill="#ee8250" textLength="13.3" lengthAdjust="spacingAndGlyphs">1</text>
<text x="1112.0" y="999.4" font-size="13.5" fill="#6f6f6e" textLength="89.4" lengthAdjust="spacingAndGlyphs" stroke="#6f6f6e" stroke-width="0.46" stroke-linejoin="round">Anmerkung:</text>
<text x="1203.7" y="999.4" font-size="13.5" fill="#a3a3a3" textLength="381.1" lengthAdjust="spacingAndGlyphs" font-style="italic">3 Fälle werden von der Polizei als PMK-Rechts gewertet,</text>
<text x="1111.5" y="1016" font-size="13.5" fill="#a3a3a3" textLength="397.4" lengthAdjust="spacingAndGlyphs" font-style="italic">ein genaues Motiv ist der Opferperspektive nicht bekannt.</text>
<clipPath id="pbclip"><rect x="1100" y="1140" width="700" height="210.29999999999995"/></clipPath>
<path d="M1116.8999999999999,1352.1 L1116.8999999999999,1203.2 L1152.75,1189.8 L1189.3,1203.2 L1189.3,1352.1Z" fill="#d6d9d7"/>
<g filter="url(#barin)"><path d="M1118.3,1350.3 L1118.3,1204.3 L1152.75,1191.8 L1187.2,1204.3 L1187.2,1350.3Z" fill="#74a27f"/></g>
<text x="1152.8" y="1237" font-size="19.5" fill="#fff" text-anchor="middle" textLength="49.2" lengthAdjust="spacingAndGlyphs">68,3%</text>
<g clip-path="url(#pbclip)"><text x="1153.55" y="1351.8999999999999" font-size="33.5" fill="#fff" text-anchor="middle" textLength="60" lengthAdjust="spacingAndGlyphs" filter="url(#txtsh)">2015</text></g>
<path d="M1193.3999999999999,1352.1 L1193.3999999999999,1179.2 L1229.3,1166 L1265.8999999999999,1179.2 L1265.8999999999999,1352.1Z" fill="#d6d9d7"/>
<g filter="url(#barin)"><path d="M1194.8,1350.3 L1194.8,1180.3 L1229.3,1168 L1263.8,1180.3 L1263.8,1350.3Z" fill="#74a27f"/></g>
<text x="1229.3" y="1212.9" font-size="19.5" fill="#fff" text-anchor="middle" textLength="49.2" lengthAdjust="spacingAndGlyphs">79,5%</text>
<g clip-path="url(#pbclip)"><text x="1230.1" y="1351.8999999999999" font-size="33.5" fill="#fff" text-anchor="middle" textLength="60" lengthAdjust="spacingAndGlyphs" filter="url(#txtsh)">2016</text></g>
<path d="M1271.3999999999999,1352.1 L1271.3999999999999,1170.2 L1307.3,1157 L1343.8999999999999,1170.2 L1343.8999999999999,1352.1Z" fill="#d6d9d7"/>
<g filter="url(#barin)"><path d="M1272.8,1350.3 L1272.8,1171.3 L1307.3,1159 L1341.8,1171.3 L1341.8,1350.3Z" fill="#74a27f"/></g>
<text x="1307.3" y="1202" font-size="19.5" fill="#fff" text-anchor="middle" textLength="49.2" lengthAdjust="spacingAndGlyphs">83,6%</text>
<g clip-path="url(#pbclip)"><text x="1308.1" y="1351.8999999999999" font-size="33.5" fill="#fff" text-anchor="middle" textLength="60" lengthAdjust="spacingAndGlyphs" filter="url(#txtsh)">2017</text></g>
<path d="M1350.8999999999999,1352.1 L1350.8999999999999,1166.2 L1386.9,1153.3 L1423.6,1166.2 L1423.6,1352.1Z" fill="#d6d9d7"/>
<g filter="url(#barin)"><path d="M1352.3,1350.3 L1352.3,1167.3 L1386.9,1155.3 L1421.5,1167.3 L1421.5,1350.3Z" fill="#ef8150"/></g>
<text x="1386.9" y="1198.7" font-size="19.5" fill="#fff" text-anchor="middle" textLength="49.2" lengthAdjust="spacingAndGlyphs">84,9%</text>
<g clip-path="url(#pbclip)"><text x="1387.7" y="1351.8999999999999" font-size="33.5" fill="#fff" text-anchor="middle" textLength="60" lengthAdjust="spacingAndGlyphs" filter="url(#txtsh)">2018</text></g>
<path d="M1433.1,1352.1 L1433.1,1191.7 L1468.75,1179 L1505.1,1191.7 L1505.1,1352.1Z" fill="#d6d9d7"/>
<g filter="url(#barin)"><path d="M1434.5,1350.3 L1434.5,1192.8 L1468.75,1181 L1503,1192.8 L1503,1350.3Z" fill="#74a27f"/></g>
<text x="1468.8" y="1223" font-size="19.5" fill="#fff" text-anchor="middle" textLength="49.2" lengthAdjust="spacingAndGlyphs">73,5%</text>
<g clip-path="url(#pbclip)"><text x="1469.55" y="1351.8999999999999" font-size="33.5" fill="#fff" text-anchor="middle" textLength="60" lengthAdjust="spacingAndGlyphs" filter="url(#txtsh)">2019</text></g>
<path d="M1514.8,1352.1 L1514.8,1185.9 L1550.6,1172.9 L1587.1,1185.9 L1587.1,1352.1Z" fill="#d6d9d7"/>
<g filter="url(#barin)"><path d="M1516.2,1350.3 L1516.2,1187 L1550.6,1174.9 L1585,1187 L1585,1350.3Z" fill="#74a27f"/></g>
<text x="1550.6" y="1216.6" font-size="19.5" fill="#fff" text-anchor="middle" textLength="49.2" lengthAdjust="spacingAndGlyphs">76,6%</text>
<g clip-path="url(#pbclip)"><text x="1551.3999999999999" y="1351.8999999999999" font-size="33.5" fill="#fff" text-anchor="middle" textLength="60" lengthAdjust="spacingAndGlyphs" filter="url(#txtsh)">2020</text></g>
<path d="M1596.3999999999999,1352.1 L1596.3999999999999,1208.3000000000002 L1632.3,1195.8 L1668.8999999999999,1208.3000000000002 L1668.8999999999999,1352.1Z" fill="#d6d9d7"/>
<g filter="url(#barin)"><path d="M1597.8,1350.3 L1597.8,1209.4 L1632.3,1197.8 L1666.8,1209.4 L1666.8,1350.3Z" fill="#74a27f"/></g>
<text x="1632.3" y="1240.9" font-size="19.5" fill="#fff" text-anchor="middle" textLength="49.2" lengthAdjust="spacingAndGlyphs">65,3%</text>
<g clip-path="url(#pbclip)"><text x="1633.1" y="1351.8999999999999" font-size="33.5" fill="#fff" text-anchor="middle" textLength="60" lengthAdjust="spacingAndGlyphs" filter="url(#txtsh)">2021</text></g>
<path d="M1684.6,1352.1 L1684.6,1207.9 L1720.6,1195.1 L1757.3,1207.9 L1757.3,1352.1Z" fill="#d6d9d7"/>
<g filter="url(#barin)"><path d="M1686,1350.3 L1686,1209 L1720.6,1197.1 L1755.2,1209 L1755.2,1350.3Z" fill="#74a27f"/></g>
<text x="1720.6" y="1239.6" font-size="19.5" fill="#fff" text-anchor="middle" textLength="49.2" lengthAdjust="spacingAndGlyphs">65,9%</text>
<g clip-path="url(#pbclip)"><text x="1721.3999999999999" y="1351.8999999999999" font-size="33.5" fill="#fff" text-anchor="middle" textLength="60" lengthAdjust="spacingAndGlyphs" filter="url(#txtsh)">2022</text></g>
<linearGradient id="tbg" x1="0" x2="1" y1="0" y2="0"><stop offset="0" stop-color="#6496ac"/><stop offset="1" stop-color="#5688a0"/></linearGradient>
<rect x="76.7" y="1544.5" width="394.6" height="27.3" fill="#6597ad"/>
<rect x="76.7" y="1544.5" width="394.6" height="9" fill="url(#tbtop)"/>
<rect x="463.3" y="1544.5" width="8.0" height="27.3" fill="url(#tbend)"/>
<rect x="76.7" y="1569.3" width="394.6" height="2.5" fill="url(#tbbot)"/>
<text x="499.4" y="1568.6" font-size="25" fill="#7a7a79" textLength="347.3" lengthAdjust="spacingAndGlyphs">Einfache Körperverletzung</text>
<text x="83.2" y="1567.3" font-size="25.5" fill="#fff" textLength="27.6" lengthAdjust="spacingAndGlyphs">66</text>
<rect x="238" y="1598.7" width="233.3" height="27.3" fill="#6597ad"/>
<rect x="238" y="1598.7" width="233.3" height="9" fill="url(#tbtop)"/>
<rect x="463.3" y="1598.7" width="8.0" height="27.3" fill="url(#tbend)"/>
<rect x="238" y="1623.5" width="233.3" height="2.5" fill="url(#tbbot)"/>
<text x="500.4" y="1622.2" font-size="25" fill="#7a7a79" textLength="381.4" lengthAdjust="spacingAndGlyphs">Gefährliche Körperverletzung</text>
<text x="243.1" y="1621.5" font-size="25.5" fill="#fff" textLength="28.8" lengthAdjust="spacingAndGlyphs">39</text>
<rect x="329" y="1652.8" width="143.7" height="27.3" fill="#6597ad"/>
<rect x="329" y="1652.8" width="143.7" height="9" fill="url(#tbtop)"/>
<rect x="464.7" y="1652.8" width="8.0" height="27.3" fill="url(#tbend)"/>
<rect x="329" y="1677.6" width="143.7" height="2.5" fill="url(#tbbot)"/>
<text x="499.3" y="1675.8" font-size="25" fill="#7a7a79" textLength="284.4" lengthAdjust="spacingAndGlyphs">Nötigung/Bedrohung</text>
<text x="334.6" y="1675.6" font-size="25.5" fill="#fff" textLength="26.7" lengthAdjust="spacingAndGlyphs">24</text>
<rect x="437.2" y="1707" width="35.5" height="27.3" fill="#6597ad"/>
<rect x="437.2" y="1707" width="35.5" height="9" fill="url(#tbtop)"/>
<rect x="464.7" y="1707" width="8.0" height="27.3" fill="url(#tbend)"/>
<rect x="437.2" y="1731.8" width="35.5" height="2.5" fill="url(#tbbot)"/>
<text x="499.5" y="1728.2" font-size="25" fill="#7a7a79" textLength="359.8" lengthAdjust="spacingAndGlyphs">Massive Sachbeschädigung</text>
<text x="416.0" y="1729.7" font-size="26" fill="#ee8250" textLength="14.4" lengthAdjust="spacingAndGlyphs">6</text>
<rect x="460.8" y="1761.1" width="11.9" height="27.3" fill="#6597ad"/>
<rect x="460.8" y="1761.1" width="11.9" height="9" fill="url(#tbtop)"/>
<rect x="464.7" y="1761.1" width="8.0" height="27.3" fill="url(#tbend)"/>
<rect x="460.8" y="1785.8999999999999" width="11.9" height="2.5" fill="url(#tbbot)"/>
<text x="499.4" y="1781.8" font-size="25" fill="#7a7a79" textLength="251.0" lengthAdjust="spacingAndGlyphs">Landfriedensbruch</text>
<text x="439.2" y="1783.3" font-size="26" fill="#ee8250" textLength="14.4" lengthAdjust="spacingAndGlyphs">2</text>
<rect x="467.2" y="1815.2" width="5.5" height="27.3" fill="#6597ad"/>
<rect x="467.2" y="1815.2" width="5.5" height="9" fill="url(#tbtop)"/>
<rect x="467.2" y="1815.2" width="5.5" height="27.3" fill="url(#tbend)"/>
<rect x="467.2" y="1840.0" width="5.5" height="2.5" fill="url(#tbbot)"/>
<text x="499.3" y="1835.4" font-size="25" fill="#7a7a79" textLength="183.2" lengthAdjust="spacingAndGlyphs">Brandstiftung</text>
<text x="448.5" y="1836.9" font-size="26" fill="#ee8250" textLength="13.3" lengthAdjust="spacingAndGlyphs">1</text>
<rect x="500" y="1587.3000000000002" width="462.8" height="1.3" fill="#c9d9cb"/>
<rect x="500" y="1641.0" width="462.8" height="1.3" fill="#c9d9cb"/>
<rect x="500" y="1694.8000000000002" width="462.8" height="1.3" fill="#c9d9cb"/>
<rect x="500" y="1749.1000000000001" width="462.8" height="1.3" fill="#c9d9cb"/>
<rect x="500" y="1803.0" width="462.8" height="1.3" fill="#c9d9cb"/>
<circle cx="1135.4" cy="1555.6" r="14.2" fill="none" stroke="#74a27f" stroke-width="3.4"/>
<circle cx="1135.4" cy="1647.6" r="14.2" fill="none" stroke="#74a27f" stroke-width="3.4"/>
<circle cx="1135.4" cy="1739.7" r="14.2" fill="none" stroke="#74a27f" stroke-width="3.4"/>
<text x="1173.6" y="1562.7" font-size="25" fill="#7a7a79" textLength="476.0" lengthAdjust="spacingAndGlyphs" xml:space="preserve">Regionale Schwerpunkte in Cottbus,</text>
<text x="1173.6" y="1593.5" font-size="25" fill="#7a7a79" textLength="568.0" lengthAdjust="spacingAndGlyphs" xml:space="preserve">Märkisch-Oderland und Ostprignitz-Ruppin</text>
<text x="1174.7" y="1656.2" font-size="25" fill="#7a7a79" textLength="518.7" lengthAdjust="spacingAndGlyphs" xml:space="preserve">Staatliche Institutionen stärker als zuvor</text>
<text x="1174.1" y="1686.5" font-size="25" fill="#7a7a79" textLength="405.3" lengthAdjust="spacingAndGlyphs" xml:space="preserve">im Fokus rechter Mobilisierung</text>
<text x="1175.6" y="1748.7" font-size="25" fill="#7a7a79" textLength="513.5" lengthAdjust="spacingAndGlyphs" xml:space="preserve">Juristische Aufarbeitung rechter Gewalt</text>
<text x="1174.6" y="1779.5" font-size="25" fill="#7a7a79" textLength="405.5" lengthAdjust="spacingAndGlyphs" xml:space="preserve">2015-2019  ist immer noch nicht</text>
<text x="1174.8" y="1810.4" font-size="25" fill="#7a7a79" textLength="193.4" lengthAdjust="spacingAndGlyphs" xml:space="preserve">abgeschlossen</text>
<path d="M83,2236 C91.5,2236.0 99.9,2236.0 108.4,2236 C124.5,2236.0 140.6,2236.0 156.7,2236 C173.3,2236.0 190.0,2211.7 206.6,2211.7 C223.2,2211.7 239.7,2276.8 256.3,2279.7 C272.8,2282.5 289.2,2285.4 305.7,2285.4 C322.3,2285.4 338.8,2278.0 355.4,2278 C372.4,2278.0 389.3,2303.1 406.3,2303.1 C422.7,2303.1 439.0,2291.3 455.4,2291.3 C472.5,2291.3 489.6,2309.6 506.7,2309.6 C522.7,2309.6 538.7,2299.1 554.7,2288.6 C572.6,2276.8 590.6,2173.6 608.5,2158.5 C623.6,2145.8 638.7,2133.0 653.8,2133 C671.5,2133.0 689.3,2195.5 707,2195.5 C723.6,2195.5 740.1,2187.2 756.7,2187.2 C773.2,2187.2 789.6,2224.2 806.1,2233.9 C819.9,2242.1 833.7,2250.2 847.5,2250.2 C854.3,2250.2 861.2,2248.6 868,2247 C878.1,2244.6 888.3,2221.8 898.4,2221.8 C912.5,2221.8 926.6,2233.9 940.7,2239.5 C947.1,2242.0 953.5,2244.4 959.9,2246.9 L959.9,2411.4 L83,2411.4Z" fill="url(#area)"/>
<g stroke="#fff" stroke-opacity="0.22" stroke-width="1">
<line x1="132.3" y1="2140" x2="132.3" y2="2411.4" clip-path="url(#areaclip)"/>
<line x1="183.1" y1="2140" x2="183.1" y2="2411.4" clip-path="url(#areaclip)"/>
<line x1="232.8" y1="2140" x2="232.8" y2="2411.4" clip-path="url(#areaclip)"/>
<line x1="282.5" y1="2140" x2="282.5" y2="2411.4" clip-path="url(#areaclip)"/>
<line x1="332.2" y1="2140" x2="332.2" y2="2411.4" clip-path="url(#areaclip)"/>
<line x1="381.9" y1="2140" x2="381.9" y2="2411.4" clip-path="url(#areaclip)"/>
<line x1="431.6" y1="2140" x2="431.6" y2="2411.4" clip-path="url(#areaclip)"/>
<line x1="481.3" y1="2140" x2="481.3" y2="2411.4" clip-path="url(#areaclip)"/>
<line x1="531" y1="2140" x2="531" y2="2411.4" clip-path="url(#areaclip)"/>
<line x1="581.3" y1="2140" x2="581.3" y2="2411.4" clip-path="url(#areaclip)"/>
<line x1="631" y1="2140" x2="631" y2="2411.4" clip-path="url(#areaclip)"/>
<line x1="681" y1="2140" x2="681" y2="2411.4" clip-path="url(#areaclip)"/>
<line x1="731.6" y1="2140" x2="731.6" y2="2411.4" clip-path="url(#areaclip)"/>
<line x1="781.8" y1="2140" x2="781.8" y2="2411.4" clip-path="url(#areaclip)"/>
<line x1="825.3" y1="2140" x2="825.3" y2="2411.4" clip-path="url(#areaclip)"/>
<line x1="869.7" y1="2140" x2="869.7" y2="2411.4" clip-path="url(#areaclip)"/>
<line x1="915.5" y1="2140" x2="915.5" y2="2411.4" clip-path="url(#areaclip)"/>
</g>
<clipPath id="areaclip"><path d="M83,2236 C91.5,2236.0 99.9,2236.0 108.4,2236 C124.5,2236.0 140.6,2236.0 156.7,2236 C173.3,2236.0 190.0,2211.7 206.6,2211.7 C223.2,2211.7 239.7,2276.8 256.3,2279.7 C272.8,2282.5 289.2,2285.4 305.7,2285.4 C322.3,2285.4 338.8,2278.0 355.4,2278 C372.4,2278.0 389.3,2303.1 406.3,2303.1 C422.7,2303.1 439.0,2291.3 455.4,2291.3 C472.5,2291.3 489.6,2309.6 506.7,2309.6 C522.7,2309.6 538.7,2299.1 554.7,2288.6 C572.6,2276.8 590.6,2173.6 608.5,2158.5 C623.6,2145.8 638.7,2133.0 653.8,2133 C671.5,2133.0 689.3,2195.5 707,2195.5 C723.6,2195.5 740.1,2187.2 756.7,2187.2 C773.2,2187.2 789.6,2224.2 806.1,2233.9 C819.9,2242.1 833.7,2250.2 847.5,2250.2 C854.3,2250.2 861.2,2248.6 868,2247 C878.1,2244.6 888.3,2221.8 898.4,2221.8 C912.5,2221.8 926.6,2233.9 940.7,2239.5 C947.1,2242.0 953.5,2244.4 959.9,2246.9 L959.9,2411.4 L83,2411.4Z"/></clipPath>
<circle cx="108.4" cy="2236" r="6.2" fill="url(#dotg)" stroke="#d2d2d2" stroke-width="0.7" filter="url(#dotsh)"/>
<text transform="translate(116.1,2216.2) rotate(-90)" font-size="22" fill="#727271" textLength="35" lengthAdjust="spacingAndGlyphs">140</text>
<circle cx="156.7" cy="2236" r="6.2" fill="url(#dotg)" stroke="#d2d2d2" stroke-width="0.7" filter="url(#dotsh)"/>
<text transform="translate(164.9,2216.2) rotate(-90)" font-size="22" fill="#727271" textLength="35" lengthAdjust="spacingAndGlyphs">140</text>
<circle cx="206.6" cy="2211.7" r="6.2" fill="url(#dotg)" stroke="#d2d2d2" stroke-width="0.7" filter="url(#dotsh)"/>
<text transform="translate(214.6,2194.0) rotate(-90)" font-size="22" fill="#727271" textLength="35" lengthAdjust="spacingAndGlyphs">159</text>
<circle cx="256.3" cy="2279.7" r="6.2" fill="url(#dotg)" stroke="#d2d2d2" stroke-width="0.7" filter="url(#dotsh)"/>
<text transform="translate(264.9,2260.0) rotate(-90)" font-size="22" fill="#727271" textLength="35" lengthAdjust="spacingAndGlyphs">104</text>
<circle cx="305.7" cy="2285.4" r="6.2" fill="url(#dotg)" stroke="#d2d2d2" stroke-width="0.7" filter="url(#dotsh)"/>
<text transform="translate(315.2,2266.4) rotate(-90)" font-size="22" fill="#727271" textLength="35" lengthAdjust="spacingAndGlyphs">101</text>
<circle cx="355.4" cy="2278" r="6.2" fill="url(#dotg)" stroke="#d2d2d2" stroke-width="0.7" filter="url(#dotsh)"/>
<text transform="translate(362.5,2256.1) rotate(-90)" font-size="22" fill="#727271" textLength="35" lengthAdjust="spacingAndGlyphs">108</text>
<circle cx="406.3" cy="2303.1" r="6.2" fill="url(#dotg)" stroke="#d2d2d2" stroke-width="0.7" filter="url(#dotsh)"/>
<text transform="translate(415.1,2280.3) rotate(-90)" font-size="22" fill="#727271" textLength="23.3" lengthAdjust="spacingAndGlyphs">87</text>
<circle cx="455.4" cy="2291.3" r="6.2" fill="url(#dotg)" stroke="#d2d2d2" stroke-width="0.7" filter="url(#dotsh)"/>
<text transform="translate(465.1,2265.6) rotate(-90)" font-size="22" fill="#727271" textLength="23.3" lengthAdjust="spacingAndGlyphs">95</text>
<circle cx="506.7" cy="2309.6" r="6.2" fill="url(#dotg)" stroke="#d2d2d2" stroke-width="0.7" filter="url(#dotsh)"/>
<text transform="translate(515.7,2286.3) rotate(-90)" font-size="22" fill="#727271" textLength="23.3" lengthAdjust="spacingAndGlyphs">85</text>
<circle cx="554.7" cy="2288.6" r="6.2" fill="url(#dotg)" stroke="#d2d2d2" stroke-width="0.7" filter="url(#dotsh)"/>
<text transform="translate(562.4,2263.5) rotate(-90)" font-size="22" fill="#727271" textLength="23.3" lengthAdjust="spacingAndGlyphs">98</text>
<circle cx="608.5" cy="2158.5" r="6.2" fill="url(#dotg)" stroke="#d2d2d2" stroke-width="0.7" filter="url(#dotsh)"/>
<text transform="translate(615.0,2140.6) rotate(-90)" font-size="22" fill="#727271" textLength="35" lengthAdjust="spacingAndGlyphs">203</text>
<circle cx="653.8" cy="2133" r="6.2" fill="url(#dotg)" stroke="#d2d2d2" stroke-width="0.7" filter="url(#dotsh)"/>
<text transform="translate(663.2,2116.9) rotate(-90)" font-size="22" fill="#727271" textLength="35" lengthAdjust="spacingAndGlyphs">221</text>
<circle cx="707" cy="2195.5" r="6.2" fill="url(#dotg)" stroke="#d2d2d2" stroke-width="0.7" filter="url(#dotsh)"/>
<text transform="translate(716.5,2174.2) rotate(-90)" font-size="22" fill="#727271" textLength="35" lengthAdjust="spacingAndGlyphs">171</text>
<circle cx="756.7" cy="2187.2" r="6.2" fill="url(#dotg)" stroke="#d2d2d2" stroke-width="0.7" filter="url(#dotsh)"/>
<text transform="translate(765.9,2165.9) rotate(-90)" font-size="22" fill="#727271" textLength="35" lengthAdjust="spacingAndGlyphs">174</text>
<circle cx="806.1" cy="2233.9" r="6.2" fill="url(#dotg)" stroke="#d2d2d2" stroke-width="0.7" filter="url(#dotsh)"/>
<text transform="translate(815.6,2216.8) rotate(-90)" font-size="22" fill="#727271" textLength="35" lengthAdjust="spacingAndGlyphs">142</text>
<circle cx="847.5" cy="2250.2" r="6.2" fill="url(#dotg)" stroke="#d2d2d2" stroke-width="0.7" filter="url(#dotsh)"/>
<text transform="translate(856.7,2232.4) rotate(-90)" font-size="22" fill="#727271" textLength="35" lengthAdjust="spacingAndGlyphs">130</text>
<circle cx="898.4" cy="2221.8" r="6.2" fill="url(#dotg)" stroke="#d2d2d2" stroke-width="0.7" filter="url(#dotsh)"/>
<text transform="translate(907.2,2205.2) rotate(-90)" font-size="22" fill="#727271" textLength="35" lengthAdjust="spacingAndGlyphs">150</text>
<circle cx="940.7" cy="2239.5" r="6.2" fill="url(#dotg)" stroke="#d2d2d2" stroke-width="0.7" filter="url(#dotsh)"/>
<text transform="translate(948.7,2218.6) rotate(-90)" font-size="22" fill="#727271" textLength="35" lengthAdjust="spacingAndGlyphs">138</text>
<rect x="102.4" y="2386.7" width="14.8" height="10.6" fill="none" stroke="#dfe8e0" stroke-width="1.5"/>
<rect x="150.4" y="2381" width="16" height="15.2" fill="#dfe8e0"/>
<rect x="152.4" y="2386.4" width="12" height="3.3" fill="#5c9b90"/>
<rect x="201.6" y="2381" width="16" height="15.2" fill="#dfe8e0"/>
<rect x="203.6" y="2386.4" width="12" height="3.3" fill="#5c9b90"/>
<rect x="248.0" y="2381" width="16" height="15.2" fill="#dfe8e0"/>
<rect x="250.0" y="2386.4" width="12" height="3.3" fill="#5c9b90"/>
<rect x="299.7" y="2381" width="16" height="15.2" fill="#dfe8e0"/>
<rect x="301.7" y="2386.4" width="12" height="3.3" fill="#5c9b90"/>
<rect x="347.9" y="2386.7" width="14.8" height="10.6" fill="none" stroke="#dfe8e0" stroke-width="1.5"/>
<rect x="399.2" y="2381.5" width="16" height="15.2" fill="#dfe8e0"/>
<rect x="401.2" y="2386.9" width="12" height="3.3" fill="#5c9b90"/>
<rect x="448.4" y="2382" width="16" height="15.2" fill="#dfe8e0"/>
<rect x="450.4" y="2387.4" width="12" height="3.3" fill="#5c9b90"/>
<rect x="499.6" y="2378" width="16" height="15.2" fill="#dfe8e0"/>
<rect x="501.6" y="2383.4" width="12" height="3.3" fill="#5c9b90"/>
<rect x="548.4" y="2382" width="16" height="15.2" fill="#dfe8e0"/>
<rect x="550.4" y="2387.4" width="12" height="3.3" fill="#5c9b90"/>
<rect x="601.0" y="2386.7" width="14.8" height="10.6" fill="none" stroke="#dfe8e0" stroke-width="1.5"/>
<rect x="650.0" y="2381.5" width="16" height="15.2" fill="#dfe8e0"/>
<rect x="652.0" y="2386.9" width="12" height="3.3" fill="#5c9b90"/>
<rect x="699.8" y="2381.5" width="16" height="15.2" fill="#dfe8e0"/>
<rect x="701.8" y="2386.9" width="12" height="3.3" fill="#5c9b90"/>
<rect x="749.5" y="2381.5" width="16" height="15.2" fill="#dfe8e0"/>
<rect x="751.5" y="2386.9" width="12" height="3.3" fill="#5c9b90"/>
<rect x="795.0" y="2381.5" width="16" height="15.2" fill="#dfe8e0"/>
<rect x="797.0" y="2386.9" width="12" height="3.3" fill="#5c9b90"/>
<rect x="840.0" y="2386.7" width="14.8" height="10.6" fill="none" stroke="#dfe8e0" stroke-width="1.5"/>
<rect x="886.0" y="2382.2" width="16" height="15.2" fill="#dfe8e0"/>
<rect x="888.0" y="2387.6" width="12" height="3.3" fill="#5c9b90"/>
<rect x="931.7" y="2382.2" width="16" height="15.2" fill="#dfe8e0"/>
<rect x="933.7" y="2387.6" width="12" height="3.3" fill="#5c9b90"/>
<rect x="1108.2" y="2087.7" width="574.8" height="41.6" fill="#d0d3d2"/>
<g filter="url(#hbarin)"><rect x="1109.4" y="2088.7" width="571.4" height="38" fill="#6496ac"/></g>
<text x="1110.4" y="2079.5" font-size="14.6" fill="#74a27f" textLength="121.3" lengthAdjust="spacingAndGlyphs">Öffentlicher Raum</text>
<text x="1135.3" y="2119.6" font-size="32.6" fill="#fff" textLength="33.9" lengthAdjust="spacingAndGlyphs">36</text>
<rect x="1108.2" y="2159.7" width="256.6" height="41.6" fill="#d0d3d2"/>
<g filter="url(#hbarin)"><rect x="1109.4" y="2160.7" width="253.2" height="38" fill="#934773"/></g>
<text x="1109.7" y="2152" font-size="14.6" fill="#74a27f" textLength="150.8" lengthAdjust="spacingAndGlyphs">Wohnung, Wohnumfeld</text>
<text x="1137.9" y="2191.6" font-size="32.6" fill="#fff" textLength="30.8" lengthAdjust="spacingAndGlyphs">14</text>
<rect x="1108.2" y="2232" width="227.0" height="41.6" fill="#d0d3d2"/>
<g filter="url(#hbarin)"><rect x="1109.4" y="2233" width="223.6" height="38" fill="#bf6650"/></g>
<text x="1108.6" y="2225.7" font-size="14.6" fill="#74a27f" textLength="190.0" lengthAdjust="spacingAndGlyphs">Einkaufszentrum/Supermarkt</text>
<text x="1138.8" y="2263.9" font-size="32.6" fill="#fff" textLength="30.3" lengthAdjust="spacingAndGlyphs">12</text>
<rect x="1108.2" y="2304.2" width="182.0" height="41.6" fill="#d0d3d2"/>
<g filter="url(#hbarin)"><rect x="1109.4" y="2305.2" width="178.6" height="38" fill="#d89c78"/></g>
<text x="1106.7" y="2295.9" font-size="14.6" fill="#74a27f" textLength="181.3" lengthAdjust="spacingAndGlyphs">Bahnhof/Haltestelle &amp; ÖPNV</text>
<text x="1135.5" y="2336.1" font-size="32.6" fill="#fff" textLength="32.4" lengthAdjust="spacingAndGlyphs">10</text>
<rect x="1108.2" y="2376.4" width="168.0" height="41.6" fill="#d0d3d2"/>
<g filter="url(#hbarin)"><rect x="1109.4" y="2377.4" width="164.6" height="38" fill="#ef8049"/></g>
<text x="1108.6" y="2368" font-size="14.6" fill="#74a27f" textLength="152.0" lengthAdjust="spacingAndGlyphs">Demonstration, Umfeld</text>
<text x="1140.5" y="2408.3" font-size="32.6" fill="#fff" textLength="17.8" lengthAdjust="spacingAndGlyphs">9</text>
<g fill="#4a4a49">
<rect x="1697.5" y="2116.2" width="40.5" height="5.8"/>
<rect x="1700" y="2121.5" width="2.9" height="7.3"/><rect x="1732.9" y="2121.5" width="2.9" height="7.3"/>
<rect x="1700.8" y="2104" width="34.1" height="3.4"/><rect x="1700.8" y="2110.2" width="34.1" height="3.5"/>
<rect x="1704" y="2101.4" width="2.8" height="15.2"/><rect x="1729" y="2101.4" width="2.8" height="15.2"/>
<rect x="1750.8" y="2115" width="2.8" height="13.8"/>
<circle cx="1752.1" cy="2087.8" r="6.6"/><circle cx="1747.3" cy="2096.5" r="6.6"/><circle cx="1757.2" cy="2098.3" r="6.9"/>
<circle cx="1752.3" cy="2107" r="11.3"/>
</g>
<path d="M1741,2103.5 L1746.5,2105 L1747.5,2103.2" fill="none" stroke="#fff" stroke-width="1.6"/>
<path d="M1757.5,2093.5 L1760.5,2090.5" fill="none" stroke="#fff" stroke-width="1.6"/>
<g fill="#4a4a49">
<path d="M1393.9,2157.6 H1423 V2199.4 H1408.9 V2181.8 L1393.9,2166.8Z"/>
<path d="M1391.9,2171.4 L1404.7,2183.4 V2199.4 H1399.4 V2189 H1384.4 V2199.4 H1379.2 V2183.4Z"/>
<rect x="1389" y="2193.2" width="6.5" height="6.2"/>
</g>
<g fill="#fff"><rect x="1397.8" y="2162.5" width="9.2" height="8.2"/><rect x="1410.2" y="2162.5" width="9.2" height="8.2"/><rect x="1410.2" y="2183.8" width="9.2" height="8.5"/></g>
<g fill="none" stroke="#4a4a49" stroke-linecap="round" stroke-linejoin="round">
<path d="M1402.7,2228.8 L1395.2,2230.2 L1385.1,2259.5 Q1391.5,2263.5 1389.3,2267.8 L1357.2,2267.8" stroke-width="2.4"/>
<path d="M1355.9,2241.5 L1391,2240.7 M1355.9,2241.5 L1358,2256.9 L1385.3,2259.5" stroke-width="2.2"/>
<path d="M1357,2247 L1389,2246.7 M1357.7,2252 L1387.3,2252.3 M1361.5,2241.5 L1362.8,2257.3 M1367,2241.3 L1367.8,2257.8 M1372.6,2241.2 L1373,2258.2 M1378.3,2241 L1378.2,2258.7 M1384,2240.9 L1383,2259.2" stroke-width="1.3"/>
<circle cx="1361.2" cy="2271.4" r="2" stroke-width="1.5"/><circle cx="1387.7" cy="2271.4" r="2" stroke-width="1.5"/>
</g>
<g fill="#4a4a49">
<rect x="1311.9" y="2303.2" width="34.2" height="39.5" rx="4" ry="4"/>
<rect x="1308.9" y="2310.9" width="4" height="9.9" rx="1.4"/><rect x="1345.2" y="2310.9" width="4" height="9.9" rx="1.4"/>
<rect x="1315.3" y="2340" width="7.4" height="8.5" rx="1.2"/><rect x="1335.6" y="2340" width="7.4" height="8.5" rx="1.2"/>
</g>
<g fill="#fff"><rect x="1317.1" y="2305.1" width="23.8" height="1.9" rx="0.9"/><rect x="1313.9" y="2310" width="30.3" height="19.7"/>
<circle cx="1317.7" cy="2337.1" r="2.8"/><circle cx="1340.2" cy="2337.1" r="2.8"/></g>
<g>
<g stroke="#777" stroke-width="0.9" fill="none"><path d="M1294.6,2371 L1300.5,2377.5 M1308.2,2368.2 L1310.7,2372.2 M1321.6,2362.1 V2370.1 M1335,2367.9 L1332.8,2372.2 M1348.9,2370.7 L1343,2377.8"/></g>
<rect x="1294.3" y="2385.2" width="19.7" height="13.2" fill="#4a4a49"/>
<path d="M1334.1,2382.1 L1348.9,2387 L1346.4,2397.2 L1334.1,2394.1Z" fill="#4a4a49"/>
<rect x="1318.7" y="2393" width="3.1" height="23.6" fill="#4a4a49"/>
<rect x="1306.7" y="2375.7" width="27.2" height="17.6" fill="#fff" stroke="#4a4a49" stroke-width="0.9"/>
<g fill="#fff" stroke="#777" stroke-width="0.9" stroke-linejoin="round">
<path d="M1299.6,2416.6 V2404 L1297.5,2399.5 L1299.5,2394.5 L1303,2392.5 L1308.5,2394 L1310,2397.5 L1308.5,2402 L1307.7,2416.6Z"/>
<path d="M1310.3,2416.6 L1315,2405.5 L1317,2402 L1322,2400.2 L1325.5,2401.5 L1327,2406 L1324.3,2409 L1324.5,2416.6Z"/>
<path d="M1330,2416.6 V2406 L1328.3,2400.8 L1331,2396.8 L1336,2396 L1339.2,2398.5 L1339.8,2403 L1337.3,2406.5 L1338.5,2416.6Z"/>
<path d="M1341.8,2416.6 V2405.5 L1340.3,2400.5 L1342.5,2396.3 L1346.3,2395.5 L1348.8,2398 L1349,2402 L1347.3,2405 L1347.5,2416.6Z"/>
</g>
<g stroke="#777" stroke-width="0.8" fill="none"><path d="M1302,2393.5 V2398 M1304,2393 V2398 M1306,2393.5 V2398.5 M1320,2401.5 L1322,2405 M1322.5,2400.8 L1324.3,2404.2 M1332,2397.5 V2401.5 M1334,2397 V2401.5 M1336,2397.5 V2402 M1343.5,2396.8 V2400.5 M1345.5,2396.5 V2400.5"/></g>
</g>
</svg></body></html>
